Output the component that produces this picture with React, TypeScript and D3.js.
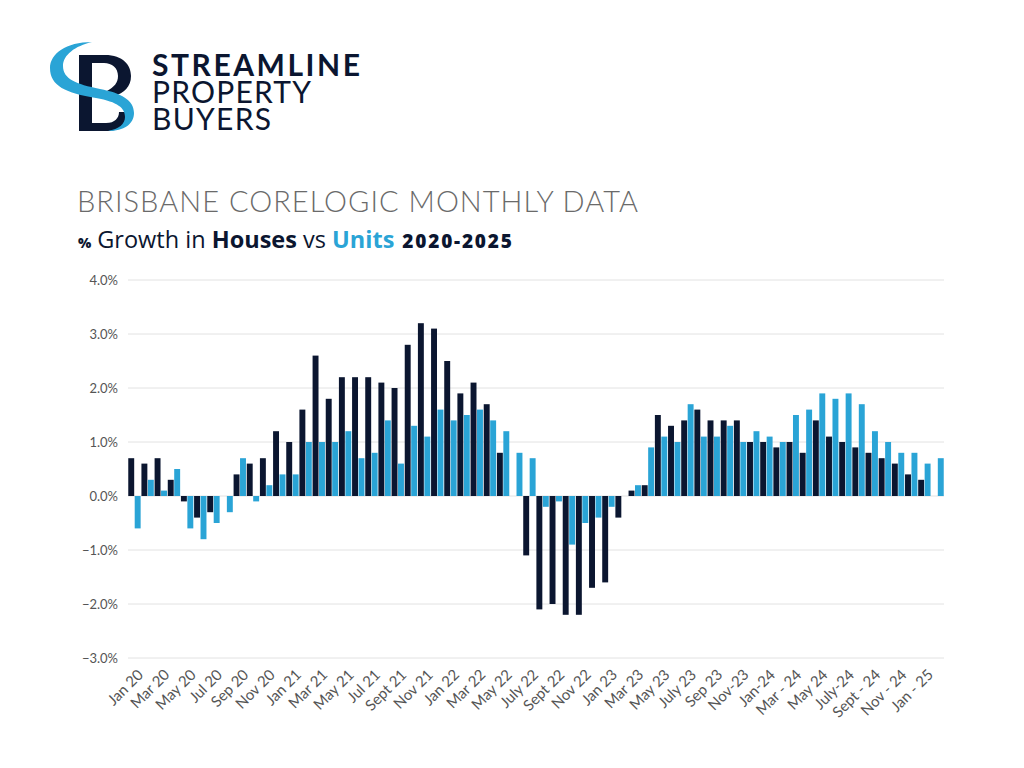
import React from "react";
import * as d3 from "d3";

const months = [
  "Jan 20","Feb 20","Mar 20","Apr 20","May 20","Jun 20","Jul 20","Aug 20","Sep 20","Oct 20","Nov 20","Dec 20",
  "Jan 21","Feb 21","Mar 21","Apr 21","May 21","Jun 21","Jul 21","Aug 21","Sep 21","Oct 21","Nov 21","Dec 21",
  "Jan 22","Feb 22","Mar 22","Apr 22","May 22","Jun 22","Jul 22","Aug 22","Sep 22","Oct 22","Nov 22","Dec 22",
  "Jan 23","Feb 23","Mar 23","Apr 23","May 23","Jun 23","Jul 23","Aug 23","Sep 23","Oct 23","Nov 23","Dec 23",
  "Jan 24","Feb 24","Mar 24","Apr 24","May 24","Jun 24","Jul 24","Aug 24","Sep 24","Oct 24","Nov 24","Dec 24",
  "Jan 25","Feb 25",
];

const houses = [
  0.7, 0.6, 0.7, 0.3, -0.1, -0.4, -0.3, 0, 0.4, 0.6, 0.7, 1.2,
  1.0, 1.6, 2.6, 1.8, 2.2, 2.2, 2.2, 2.1, 2.0, 2.8, 3.2, 3.1,
  2.5, 1.9, 2.1, 1.7, 0.8, 0, -1.1, -2.1, -2.0, -2.2, -2.2, -1.7,
  -1.6, -0.4, 0.1, 0.2, 1.5, 1.3, 1.4, 1.6, 1.4, 1.4, 1.4, 1.0,
  1.0, 0.9, 1.0, 0.8, 1.4, 1.1, 1.0, 0.9, 0.8, 0.7, 0.6, 0.4,
  0.3, 0,
];

const units = [
  -0.6, 0.3, 0.1, 0.5, -0.6, -0.8, -0.5, -0.3, 0.7, -0.1, 0.2, 0.4,
  0.4, 1.0, 1.0, 1.0, 1.2, 0.7, 0.8, 1.4, 0.6, 1.3, 1.1, 1.6,
  1.4, 1.5, 1.6, 1.4, 1.2, 0.8, 0.7, -0.2, -0.1, -0.9, -0.5, -0.4,
  -0.2, 0, 0.2, 0.9, 1.1, 1.0, 1.7, 1.1, 1.1, 1.3, 1.0, 1.2,
  1.1, 1.0, 1.5, 1.6, 1.9, 1.8, 1.9, 1.7, 1.2, 1.0, 0.8, 0.8,
  0.6, 0.7,
];

const tickLabels = [
  "Jan 20","Mar 20","May 20","Jul 20","Sep 20","Nov 20","Jan 21","Mar 21","May 21","Jul 21","Sept 21","Nov 21",
  "Jan 22","Mar 22","May 22","July 22","Sept 22","Nov 22","Jan 23","Mar 23","May 23","July 23","Sep 23","Nov-23",
  "Jan-24","Mar - 24","May 24","July-24","Sept - 24","Nov - 24","Jan - 25",
];

const yTicks = [4, 3, 2, 1, 0, -1, -2, -3];

const NAVY = "#0b1630";
const BLUE = "#2aa4d6";
const GRID = "#e2e2e2";
const TXT = "#555555";

export default function App() {
  const x = d3.scaleBand<string>().domain(months).range([128, 944]).paddingInner(0.06).paddingOuter(0.02);
  const sub = d3.scaleBand<string>().domain(["h", "u"]).range([0, x.bandwidth()]).paddingInner(0.08);
  const y = d3.scaleLinear().domain([-3, 4]).range([658, 280]);
  const fmt = d3.format(".1f");

  const bar = (v: number) => ({ y: v >= 0 ? y(v) : y(0), h: Math.abs(y(v) - y(0)) });

  return (
    <svg width={1024} height={768} style={{ position: "absolute", left: 0, top: 0, background: "#fff" }}>
      <rect x={0} y={0} width={1024} height={768} fill="#fff" />
      {/* Logo mark */}
      <g>
        <rect x={79} y={55} width={13} height={76} fill={NAVY} />
        <path d="M92 55 L105 55 C123 55 131 65 131 76 C131 87 124 93 114 96 L107 91 C114 87 118 83 118 76 C118 68 112 63 104 63 L92 63 Z" fill={NAVY} />
        <path d="M92 123 L106 123 C115 123 119 118 119 112 L131 112 C131 124 121 131 106 131 L92 131 Z" fill={NAVY} />
        <path d="M92 42 C 66 42 50 54 50 68 C 50 86 66 93 96 98 C 118 102 125 108 125 117 C 125 124 119 129 108 131 C 124 131 134 124 134 113 C 134 100 121 93 100 89 C 76 84 63 79 63 66 C 63 55 75 46 92 42 Z" fill={BLUE} />
      </g>
      <text x={152} y={76} fontFamily="Lato, 'Open Sans', sans-serif" fontWeight={700} fontSize={30} fill={NAVY} textLength={208} lengthAdjust="spacing">STREAMLINE</text>
      <text x={152} y={103} fontFamily="Lato, 'Open Sans', sans-serif" fontWeight={400} fontSize={30} fill={NAVY} textLength={159} lengthAdjust="spacing">PROPERTY</text>
      <text x={152} y={130} fontFamily="Lato, 'Open Sans', sans-serif" fontWeight={400} fontSize={30} fill={NAVY} textLength={119} lengthAdjust="spacing">BUYERS</text>

      {/* Titles */}
      <text x={77} y={212} fontFamily="Lato, 'Open Sans', sans-serif" fontWeight={300} fontSize={29} fill="#6a6a6a" textLength={561} lengthAdjust="spacing">BRISBANE CORELOGIC MONTHLY DATA</text>
      <text x={78} y={248} fontFamily="'Open Sans', sans-serif" fontSize={23.5} fill={NAVY}>
        <tspan fontWeight={800} fontSize={14}>%</tspan>
        <tspan dx={6}>Growth in </tspan>
        <tspan fontWeight={700}>Houses</tspan>
        <tspan> vs </tspan>
        <tspan fontWeight={700} fill={BLUE}>Units</tspan>
        <tspan dx={8} fontWeight={800} fontSize={19} letterSpacing={1.8}>2020-2025</tspan>
      </text>

      {/* Grid */}
      {yTicks.map((t) => (
        <g key={t}>
          <line x1={128} x2={944} y1={y(t)} y2={y(t)} stroke={GRID} strokeWidth={1} />
          <text x={118} y={y(t)} dy="0.35em" textAnchor="end" fontFamily="Lato, sans-serif" fontSize={13} fill={TXT}>
            {fmt(t)}%
          </text>
        </g>
      ))}

      {/* Bars */}
      {months.map((m, i) => {
        const bh = bar(houses[i]);
        const bu = bar(units[i]);
        return (
          <g key={m}>
            {houses[i] !== 0 && (
              <rect x={(x(m) as number) + (sub("h") as number)} y={bh.y} width={sub.bandwidth()} height={bh.h} fill={NAVY} />
            )}
            {units[i] !== 0 && (
              <rect x={(x(m) as number) + (sub("u") as number)} y={bu.y} width={sub.bandwidth()} height={bu.h} fill={BLUE} />
            )}
          </g>
        );
      })}

      {/* X labels */}
      {tickLabels.map((lab, k) => {
        const m = months[k * 2];
        const cx = (x(m) as number) + x.bandwidth() / 2 + 6;
        const cy = 672;
        return (
          <text key={lab} x={cx} y={cy} dy="0.35em" textAnchor="end" transform={`rotate(-45 ${cx} ${cy})`} fontFamily="Lato, sans-serif" fontSize={15} fill={TXT}>
            {lab}
          </text>
        );
      })}
    </svg>
  );
}
